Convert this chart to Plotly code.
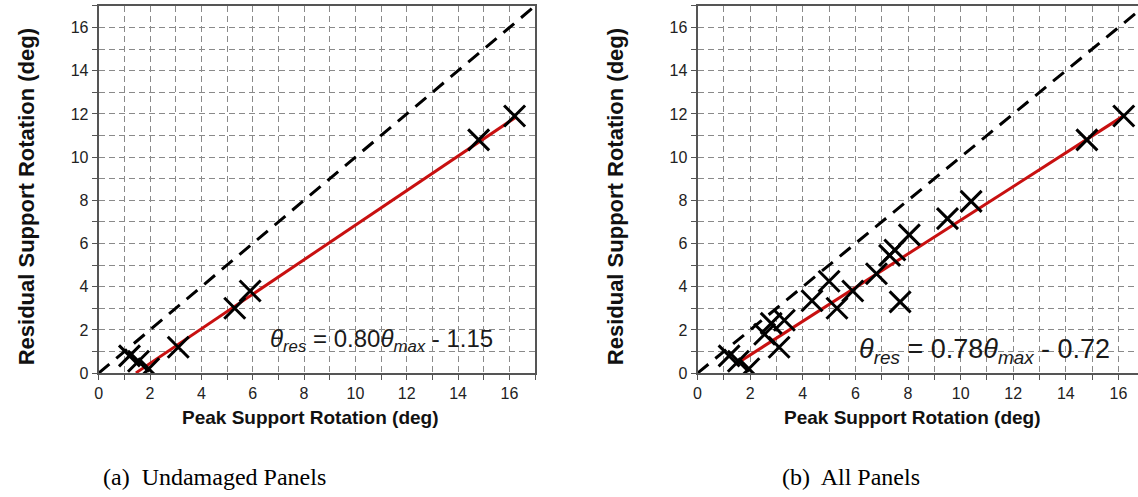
import plotly.graph_objects as go

W, H = 1138, 497

# ---- data ----
peak_undamaged = [1.2, 1.55, 1.95, 3.1, 5.3, 5.9, 14.8, 16.2]
res_undamaged = [0.8, 0.55, 0.2, 1.2, 3.0, 3.8, 10.8, 11.9]

peak_all = [1.2, 1.55, 1.95, 3.1, 5.3, 5.9, 14.8, 16.2,
            2.55, 2.8, 3.3, 4.35, 5.0, 6.8, 7.3, 7.5, 7.7, 8.05, 9.5, 10.4]
res_all = [0.8, 0.55, 0.2, 1.2, 3.0, 3.8, 10.8, 11.9,
           1.8, 2.3, 2.45, 3.35, 4.25, 4.6, 5.45, 5.7, 3.3, 6.4, 7.15, 7.95]

fit_a = [0.80, -1.15]   # slope, intercept
fit_b = [0.78, -0.72]
fit_span = [1.45, 16.25]
unity = [0, 17]

tick_vals = [0, 2, 4, 6, 8, 10, 12, 14, 16]


def fx(px):
    return px / W


def fy(py):
    return 1 - py / H


fig = go.Figure()

panels = [
    ("x", "y", peak_undamaged, res_undamaged, fit_a),
    ("x2", "y2", peak_all, res_all, fit_b),
]
for xa, ya, px_, py_, fit in panels:
    fig.add_trace(go.Scatter(x=unity, y=unity, mode="lines", xaxis=xa, yaxis=ya,
                             line=dict(color="black", width=3, dash="14px,9px"),
                             showlegend=False, hoverinfo="skip"))
    fig.add_trace(go.Scatter(x=fit_span, y=[fit[0] * v + fit[1] for v in fit_span],
                             mode="lines", xaxis=xa, yaxis=ya,
                             line=dict(color="#c81010", width=3),
                             showlegend=False, hoverinfo="skip"))
    fig.add_trace(go.Scatter(x=px_, y=py_, mode="markers", xaxis=xa, yaxis=ya,
                             marker=dict(symbol="x-thin", size=21,
                                         line=dict(color="black", width=3)),
                             showlegend=False, hoverinfo="skip"))

axis_common = dict(
    showline=True, linecolor="#555", linewidth=2,
    showgrid=True, gridcolor="#8a8a8a", gridwidth=1, griddash="6px,4px",
    zeroline=False,
    ticks="outside", ticklen=5, tickcolor="#555", tickwidth=1,
    tickvals=tick_vals,
    tickfont=dict(family="Liberation Sans, Arial", size=16, color="#222"),
    minor=dict(dtick=1, showgrid=True, gridcolor="#8a8a8a", gridwidth=1,
               griddash="6px,4px", ticks="outside", ticklen=5, tickcolor="#555"),
)

y_dom = [fy(380), fy(6)]
fig.update_layout(
    width=W, height=H,
    margin=dict(l=0, r=0, t=0, b=0),
    paper_bgcolor="white", plot_bgcolor="white",
    xaxis=dict(axis_common, domain=[fx(95), fx(533)], range=[0, 17], mirror=True, anchor="y"),
    yaxis=dict(axis_common, domain=y_dom, range=[0, 17], mirror=True, anchor="x"),
    xaxis2=dict(axis_common, domain=[fx(696), 1.0], range=[0, (1138 - 696) / 26.4], mirror=True, anchor="y2"),
    yaxis2=dict(axis_common, domain=y_dom, range=[0, 17], mirror=False, anchor="x2"),
)

ytitle_font = dict(family="Liberation Sans, Arial", size=22, color="#111")
xtitle_font = dict(family="Liberation Sans, Arial", size=19, color="#111")
annos = [
    dict(text="<b>Residual Support Rotation (deg)</b>", x=fx(22), y=fy(200), textangle=-90, font=ytitle_font),
    dict(text="<b>Residual Support Rotation (deg)</b>", x=fx(614), y=fy(200), textangle=-90, font=ytitle_font),
    dict(text="<b>Peak Support Rotation (deg)</b>", x=fx(308), y=fy(425), font=xtitle_font),
    dict(text="<b>Peak Support Rotation (deg)</b>", x=fx(912), y=fy(425), font=xtitle_font),
]
for a in annos:
    fig.add_annotation(xref="paper", yref="paper", showarrow=False,
                       xanchor="center", yanchor="middle", **a)

cap_font = dict(family="Liberation Serif, Times New Roman", size=24, color="black")
fig.add_annotation(xref="paper", yref="paper", showarrow=False, text="(a)  Undamaged Panels",
                   x=fx(211), y=fy(486), xanchor="center", yanchor="middle", font=cap_font)
fig.add_annotation(xref="paper", yref="paper", showarrow=False, text="(b)  All Panels",
                   x=fx(850), y=fy(486), xanchor="center", yanchor="middle", font=cap_font)

for fit, cx, cy, fs in [(fit_a, 379, 347, 24), (fit_b, 984, 357, 27)]:
    txt = ("<i>θ</i><sub><i>res</i></sub> = %.2f<i>θ</i><sub><i>max</i></sub> - %.2f"
           % (fit[0], -fit[1]))
    fig.add_annotation(xref="paper", yref="paper", showarrow=False, text=txt,
                       x=fx(cx), y=fy(cy), xanchor="center", yanchor="middle",
                       font=dict(family="Liberation Sans, Arial", size=fs, color="#1a1a1a"))

fig.write_html("out.html")
